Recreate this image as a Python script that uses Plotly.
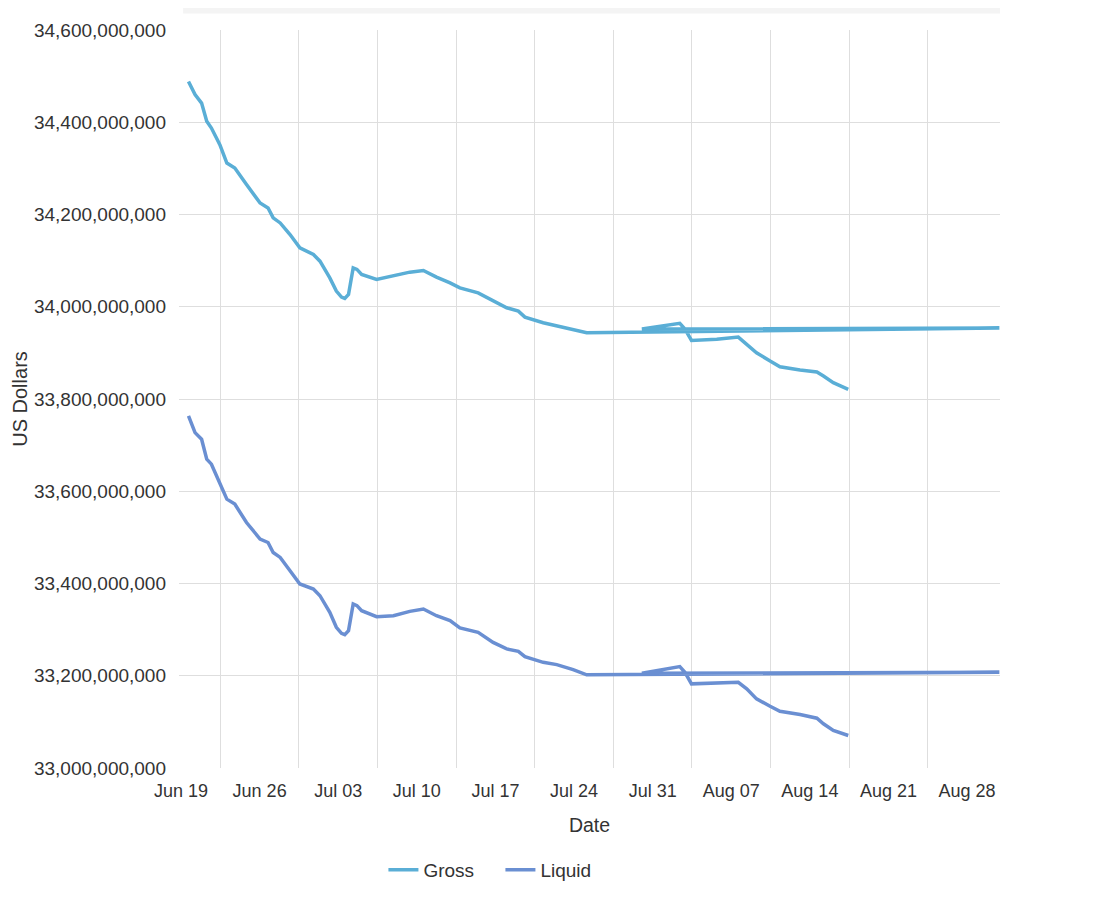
import plotly.graph_objects as go

# Datas (ordem original da série, inclusive o salto até o fim de agosto)
dates = [
    "2023-06-19 16:00", "2023-06-20 06:00", "2023-06-20 20:00", "2023-06-21 07:00",
    "2023-06-21 17:00", "2023-06-22 11:00", "2023-06-23 02:00", "2023-06-23 19:00",
    "2023-06-24 20:00", "2023-06-26 01:00", "2023-06-26 18:00", "2023-06-27 05:00",
    "2023-06-27 20:00", "2023-06-28 17:00", "2023-06-29 14:00", "2023-06-30 19:00",
    "2023-07-01 09:00", "2023-07-02 06:00", "2023-07-02 20:00", "2023-07-03 07:00",
    "2023-07-03 14:00", "2023-07-03 22:00", "2023-07-04 03:00", "2023-07-04 08:00",
    "2023-07-04 16:00", "2023-07-05 02:00", "2023-07-06 10:00",
    "2023-07-07 22:00", "2023-07-09 09:00", "2023-07-10 14:00", "2023-07-11 18:00",
    "2023-07-12 23:00", "2023-07-13 20:00", "2023-07-15 11:00", "2023-07-16 19:00",
    "2023-07-18 00:00", "2023-07-19 01:00", "2023-07-19 15:00", "2023-07-21 06:00",
    "2023-07-22 11:00", "2023-07-23 22:00", "2023-07-25 03:00", "2023-08-30 21:00",
    "2023-07-30 01:00", "2023-08-02 10:00", "2023-08-02 21:00", "2023-08-03 11:00",
    "2023-08-05 17:00", "2023-08-07 15:00", "2023-08-08 09:00", "2023-08-09 06:00",
    "2023-08-10 11:00", "2023-08-11 08:00", "2023-08-13 03:00", "2023-08-14 15:00",
    "2023-08-15 05:00", "2023-08-16 02:00", "2023-08-17 10:00",
]

# valores em bilhões de dólares
gross_bn = [
    34.4885, 34.4600, 34.4415, 34.4020, 34.3874, 34.3515, 34.3116, 34.3008,
    34.2649, 34.2250, 34.2142, 34.1926, 34.1817, 34.1566, 34.1276, 34.1133,
    34.0988, 34.0626, 34.0339, 34.0209, 34.0180, 34.0267, 34.0555, 34.0843,
    34.0810, 34.0700, 34.0592,
    34.0663, 34.0750, 34.0787, 34.0642, 34.0518, 34.0410, 34.0300, 34.0122,
    33.9977, 33.9906, 33.9776, 33.9653, 33.9581, 33.9510, 33.9436, 33.9538,
    33.9516, 33.9640, 33.9516, 33.9270, 33.9293, 33.9343, 33.9185, 33.9003,
    33.8823, 33.8700, 33.8628, 33.8585, 33.8498, 33.8353, 33.8210,
]

liquid_bn = [
    33.7632, 33.7271, 33.7128, 33.6695, 33.6587, 33.6154, 33.5829, 33.5721,
    33.5322, 33.4963, 33.4889, 33.4673, 33.4565, 33.4277, 33.3989, 33.3880,
    33.3735, 33.3374, 33.3050, 33.2920, 33.2890, 33.2978, 33.3267, 33.3556,
    33.3520, 33.3411, 33.3281,
    33.3302, 33.3396, 33.3447, 33.3302, 33.3194, 33.3036, 33.2941, 33.2724,
    33.2582, 33.2530, 33.2415, 33.2291, 33.2242, 33.2133, 33.2019, 33.2075,
    33.2053, 33.2198, 33.2075, 33.1824, 33.1845, 33.1858, 33.1716, 33.1499,
    33.1340, 33.1231, 33.1159, 33.1079, 33.0958, 33.0813, 33.0704,
]

series_names = ["Gross", "Liquid"]
series_colors = ["#5aaed6", "#6a8fd2"]

FONT = "Arial, Liberation Sans, sans-serif"

fig = go.Figure()
for name, vals, color in zip(series_names, [gross_bn, liquid_bn], series_colors):
    fig.add_trace(go.Scatter(
        x=dates, y=[v * 1e9 for v in vals], name=name, mode="lines",
        line=dict(color=color, width=3.5),
    ))

# a página tem 8px de margem no body, por isso as margens já descontam isso
fig.update_layout(
    width=1120, height=903,
    margin=dict(l=171, r=128, t=20, b=143),
    paper_bgcolor="white", plot_bgcolor="white",
    font=dict(family=FONT, size=18, color="#333333"),
    showlegend=True,
    legend=dict(orientation="h", x=0.249, xanchor="left", y=-0.138, yanchor="middle",
                font=dict(size=19, color="#333333"), entrywidth=72),
    shapes=[dict(type="rect", xref="paper", yref="paper", x0=0.005, x1=1.0,
                 y0=1.0223, y1=1.05, fillcolor="#f4f4f4", line=dict(width=0),
                 layer="below")],
)

fig.update_xaxes(
    type="date",
    range=["2023-06-18 19:43", "2023-08-30 22:20"],
    tick0="2023-06-19", dtick=7 * 86400000, tickformat="%b %d",
    showgrid=False, zeroline=False, showline=False,
    ticklabelstandoff=10,
    minor=dict(tick0="2023-06-22 12:00", dtick=7 * 86400000, showgrid=True,
               gridcolor="#dedede", gridwidth=1),
    title=dict(text="Date", standoff=18, font=dict(size=19.5)),
    tickfont=dict(size=18),
)

fig.update_yaxes(
    range=[33.0e9, 34.6e9], dtick=0.2e9, tickformat=",d",
    showgrid=True, gridcolor="#dedede", gridwidth=1,
    zeroline=False, showline=False, ticklabelstandoff=12,
    title=dict(text="US Dollars", standoff=0, font=dict(size=20)),
    tickfont=dict(size=19),
)

fig.write_html("out.html")
